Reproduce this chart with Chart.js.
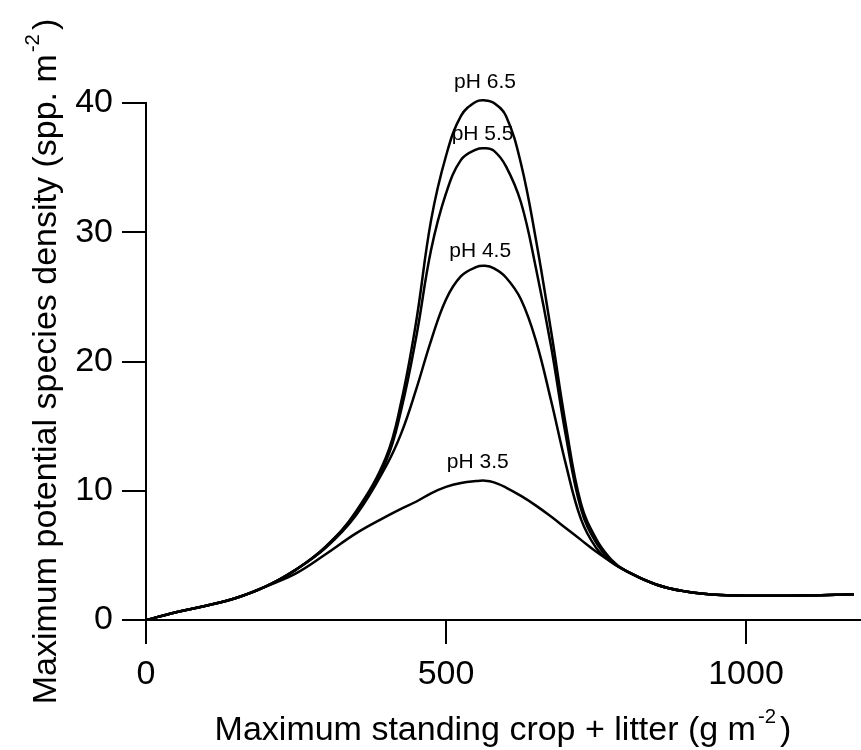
<!DOCTYPE html>
<html>
<head>
<meta charset="utf-8">
<script src="https://cdn.jsdelivr.net/npm/chart.js@4.4.1/dist/chart.umd.min.js"></script>
<style>
  html, body { margin: 0; padding: 0; background: #fff; }
</style>
</head>
<body>
<canvas id="chart" width="861" height="750"></canvas>
<script>
// biomass (standing crop + litter, g m-2)
const biomass = [0, 50, 100, 150, 200, 250, 300, 350, 400, 425, 450, 475, 500, 525, 550, 565, 580, 600, 625, 650, 675, 700, 725, 750, 775, 800, 850, 900, 950, 1000, 1050, 1100, 1150, 1180];

// species density for each soil pH
const ph65 = [0, 0.6, 1.1, 1.7, 2.6, 3.9, 5.7, 8.4, 12.6, 16.8, 23.0, 30.9, 35.9, 39.0, 40.1, 40.2, 40.0, 39.0, 35.3, 29.4, 22.4, 15.0, 9.0, 6.3, 4.7, 3.8, 2.75, 2.2, 1.95, 1.88, 1.87, 1.9, 1.95, 2.0];
const ph55 = [0, 0.6, 1.1, 1.7, 2.6, 3.9, 5.7, 8.3, 12.3, 16.2, 21.8, 28.6, 33.0, 35.6, 36.4, 36.5, 36.3, 35.1, 32.3, 27.2, 21.2, 14.2, 8.6, 6.0, 4.6, 3.8, 2.75, 2.2, 1.95, 1.88, 1.87, 1.9, 1.95, 2.0];
const ph45 = [0, 0.6, 1.1, 1.7, 2.6, 3.9, 5.6, 8.1, 11.9, 14.4, 17.8, 21.6, 24.8, 26.6, 27.3, 27.4, 27.2, 26.5, 24.8, 21.6, 17.0, 12.0, 7.8, 5.6, 4.5, 3.8, 2.75, 2.2, 1.95, 1.88, 1.87, 1.9, 1.95, 2.0];
const ph35 = [0, 0.6, 1.1, 1.7, 2.6, 3.6, 5.1, 6.7, 8.0, 8.6, 9.15, 9.8, 10.3, 10.6, 10.75, 10.78, 10.65, 10.25, 9.6, 8.85, 8.0, 7.1, 6.2, 5.3, 4.5, 3.8, 2.75, 2.2, 1.95, 1.88, 1.87, 1.9, 1.95, 2.0];

// tick values
const xTickValues = [0, 500, 1000];
const yTickValues = [0, 10, 20, 30, 40];

// curve labels and where they sit (data units)
const curveNames = ["pH 6.5", "pH 5.5", "pH 4.5", "pH 3.5"];
const nameX = [565, 561, 557, 553];
const nameY = [41.6, 37.6, 28.5, 12.2];

const FONT = '"Liberation Sans", Arial, Helvetica, sans-serif';

function toPoints(ys) {
    return biomass.map((x, i) => ({ x: x, y: ys[i] }));
}

function makeSet(label, ys) {
    return {
        label: label,
        data: toPoints(ys),
        borderColor: "#000",
        borderWidth: 2.5,
        pointRadius: 0,
        fill: false,
        tension: 0.4,
        clip: false,
    };
}

// draw text pieces, some of them raised as superscript
function drawParts(ctx, parts, size) {
    let x = 0;
    parts.forEach(p => {
        const s = p.sup ? size * 0.6 : size;
        ctx.font = s + "px " + FONT;
        ctx.fillText(p.t, x + (p.dx || 0), p.sup ? -size * 0.5 : 0);
        x += ctx.measureText(p.t).width + (p.dx || 0);
    });
    return x;
}

function partsWidth(ctx, parts, size) {
    let w = 0;
    parts.forEach(p => {
        ctx.font = (p.sup ? size * 0.6 : size) + "px " + FONT;
        w += ctx.measureText(p.t).width + (p.dx || 0);
    });
    return w;
}

const xTitle = [{ t: "Maximum standing crop + litter (g m" }, { t: "-2", sup: true, dx: 2 }, { t: ")", dx: 4 }];
const yTitle = [{ t: "Maximum potential species density (spp. m" }, { t: "-2", sup: true, dx: 2 }, { t: ")", dx: 4 }];

const labelsPlugin = {
    id: "labels",
    afterDraw(chart) {
        const ctx = chart.ctx;
        const xs = chart.scales.x, ys = chart.scales.y;
        const area = chart.chartArea;
        ctx.save();
        ctx.fillStyle = "#000";

        // curve names
        ctx.font = "21px " + FONT;
        ctx.textAlign = "center";
        ctx.textBaseline = "middle";
        curveNames.forEach((n, i) => {
            ctx.fillText(n, xs.getPixelForValue(nameX[i]), ys.getPixelForValue(nameY[i]));
        });

        // axis titles
        ctx.textAlign = "left";
        ctx.textBaseline = "alphabetic";
        const size = 34;
        const wx = partsWidth(ctx, xTitle, size);
        ctx.save();
        ctx.translate((area.left + area.right) / 2 - wx / 2, 740);
        drawParts(ctx, xTitle, size);
        ctx.restore();

        const wy = partsWidth(ctx, yTitle, size);
        ctx.save();
        ctx.translate(56, (area.top + area.bottom) / 2 + wy / 2);
        ctx.rotate(-Math.PI / 2);
        drawParts(ctx, yTitle, size);
        ctx.restore();

        ctx.restore();
    }
};

const axisStyle = {
    grid: { drawOnChartArea: false, drawTicks: true, tickLength: 24, color: "#000", lineWidth: 2 },
    border: { display: true, color: "#000", width: 2 },
};

new Chart(document.getElementById("chart").getContext("2d"), {
    type: "line",
    data: {
        datasets: [
            makeSet("pH 6.5", ph65),
            makeSet("pH 5.5", ph55),
            makeSet("pH 4.5", ph45),
            makeSet("pH 3.5", ph35),
        ],
    },
    options: {
        responsive: false,
        animation: false,
        devicePixelRatio: 1,
        layout: { padding: { top: 103, left: 0, right: 1, bottom: 0 } },
        plugins: {
            legend: { display: false },
            tooltip: { enabled: false },
        },
        scales: {
            x: {
                type: "linear",
                min: 0,
                max: 1190,
                ticks: {
                    color: "#000", padding: 10, autoSkip: false,
                    font: { size: 34, family: FONT },
                    callback: v => String(v),
                },
                ...axisStyle,
                afterBuildTicks(scale) { scale.ticks = xTickValues.map(v => ({ value: v })); },
                afterFit(scale) { scale.height = 130; },
            },
            y: {
                min: 0,
                max: 40,
                ticks: {
                    color: "#000", padding: 9, autoSkip: false,
                    font: { size: 34, family: FONT },
                    callback: v => String(v),
                },
                ...axisStyle,
                afterBuildTicks(scale) { scale.ticks = yTickValues.map(v => ({ value: v })); },
                afterFit(scale) { scale.width = 146; },
            },
        },
    },
    plugins: [labelsPlugin],
});
</script>
</body>
</html>
